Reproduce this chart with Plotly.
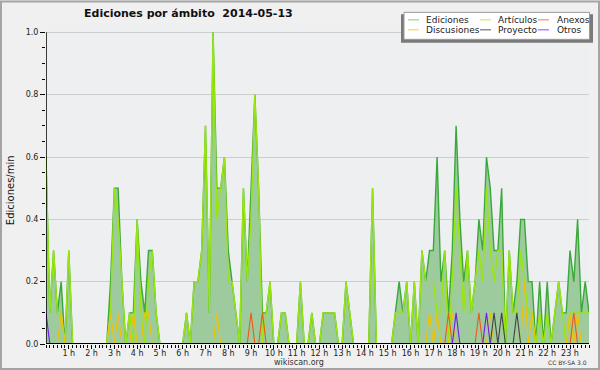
import plotly.graph_objects as go

# ---------------- data (edits/min, one value per 10-minute slot, 00:00 .. 23:50) ----------------
hour_labels = ["1 h", "2 h", "3 h", "4 h", "5 h", "6 h", "7 h", "8 h", "9 h", "10 h", "11 h", "12 h",
               "13 h", "14 h", "15 h", "16 h", "17 h", "18 h", "19 h", "20 h", "21 h", "22 h", "23 h"]
y_labels = ["0.0", "0.2", "0.4", "0.6", "0.8", "1.0"]

ediciones = [
    0.6, 0.1, 0.3, 0.1, 0.2, 0.0, 0.3, 0.0, 0.0, 0.0, 0.0, 0.0,
    0.0, 0.0, 0.0, 0.0, 0.0, 0.2, 0.5, 0.5, 0.2, 0.0, 0.1, 0.1,
    0.4, 0.2, 0.1, 0.3, 0.3, 0.1, 0.0, 0.0, 0.0, 0.0, 0.0, 0.0,
    0.0, 0.1, 0.0, 0.2, 0.2, 0.3, 0.7, 0.1, 1.0, 0.5, 0.5, 0.6,
    0.3, 0.2, 0.1, 0.0, 0.5, 0.2, 0.5, 0.8, 0.5, 0.1, 0.1, 0.2,
    0.0, 0.0, 0.1, 0.1, 0.0, 0.0, 0.0, 0.2, 0.0, 0.0, 0.1, 0.0,
    0.0, 0.1, 0.1, 0.1, 0.1, 0.0, 0.0, 0.2, 0.1, 0.0, 0.0, 0.0,
    0.0, 0.0, 0.5, 0.0, 0.0, 0.0, 0.0, 0.0, 0.1, 0.2, 0.1, 0.2,
    0.0, 0.2, 0.0, 0.3, 0.2, 0.3, 0.3, 0.6, 0.2, 0.3, 0.1, 0.3,
    0.7, 0.4, 0.2, 0.3, 0.1, 0.2, 0.4, 0.3, 0.6, 0.5, 0.3, 0.3,
    0.5, 0.0, 0.3, 0.1, 0.2, 0.4, 0.4, 0.2, 0.2, 0.0, 0.2, 0.0,
    0.2, 0.0, 0.1, 0.2, 0.1, 0.1, 0.3, 0.2, 0.4, 0.1, 0.2, 0.1,
]
articulos = [
    0.6, 0.1, 0.3, 0.1, 0.1, 0.0, 0.3, 0.0, 0.0, 0.0, 0.0, 0.0,
    0.0, 0.0, 0.0, 0.0, 0.0, 0.1, 0.5, 0.4, 0.2, 0.0, 0.1, 0.0,
    0.4, 0.1, 0.0, 0.2, 0.3, 0.1, 0.0, 0.0, 0.0, 0.0, 0.0, 0.0,
    0.0, 0.1, 0.0, 0.2, 0.2, 0.3, 0.7, 0.1, 1.0, 0.4, 0.5, 0.6,
    0.2, 0.2, 0.1, 0.0, 0.5, 0.2, 0.4, 0.8, 0.5, 0.0, 0.1, 0.2,
    0.0, 0.0, 0.1, 0.1, 0.0, 0.0, 0.0, 0.2, 0.0, 0.0, 0.1, 0.0,
    0.0, 0.1, 0.1, 0.1, 0.1, 0.0, 0.0, 0.2, 0.1, 0.0, 0.0, 0.0,
    0.0, 0.0, 0.5, 0.0, 0.0, 0.0, 0.0, 0.0, 0.1, 0.1, 0.1, 0.2,
    0.0, 0.2, 0.0, 0.3, 0.2, 0.2, 0.2, 0.1, 0.1, 0.3, 0.0, 0.2,
    0.5, 0.3, 0.1, 0.3, 0.1, 0.2, 0.3, 0.2, 0.5, 0.3, 0.2, 0.3,
    0.3, 0.0, 0.3, 0.1, 0.1, 0.3, 0.2, 0.1, 0.1, 0.0, 0.1, 0.0,
    0.1, 0.0, 0.1, 0.2, 0.1, 0.0, 0.1, 0.1, 0.1, 0.1, 0.1, 0.1,
]
discusiones = [
    0.0, 0.0, 0.0, 0.0, 0.1, 0.0, 0.0, 0.0, 0.0, 0.0, 0.0, 0.0,
    0.0, 0.0, 0.0, 0.0, 0.0, 0.1, 0.0, 0.1, 0.0, 0.0, 0.0, 0.1,
    0.0, 0.0, 0.1, 0.1, 0.0, 0.0, 0.0, 0.0, 0.0, 0.0, 0.0, 0.0,
    0.0, 0.0, 0.0, 0.0, 0.0, 0.0, 0.0, 0.0, 0.0, 0.1, 0.0, 0.0,
    0.0, 0.0, 0.0, 0.0, 0.0, 0.0, 0.0, 0.0, 0.0, 0.0, 0.0, 0.0,
    0.0, 0.0, 0.0, 0.0, 0.0, 0.0, 0.0, 0.0, 0.0, 0.0, 0.0, 0.0,
    0.0, 0.0, 0.0, 0.0, 0.0, 0.0, 0.0, 0.0, 0.0, 0.0, 0.0, 0.0,
    0.0, 0.0, 0.0, 0.0, 0.0, 0.0, 0.0, 0.0, 0.0, 0.0, 0.0, 0.0,
    0.0, 0.0, 0.0, 0.0, 0.0, 0.1, 0.0, 0.1, 0.0, 0.0, 0.0, 0.1,
    0.0, 0.0, 0.0, 0.0, 0.0, 0.0, 0.0, 0.0, 0.0, 0.1, 0.0, 0.0,
    0.0, 0.0, 0.0, 0.0, 0.0, 0.0, 0.2, 0.0, 0.1, 0.0, 0.0, 0.0,
    0.0, 0.0, 0.0, 0.0, 0.0, 0.0, 0.1, 0.0, 0.1, 0.0, 0.0, 0.0,
]
anexos = [
    0.0, 0.0, 0.0, 0.0, 0.0, 0.0, 0.0, 0.0, 0.0, 0.0, 0.0, 0.0,
    0.0, 0.0, 0.0, 0.0, 0.0, 0.0, 0.0, 0.0, 0.0, 0.0, 0.0, 0.0,
    0.0, 0.0, 0.0, 0.0, 0.0, 0.0, 0.0, 0.0, 0.0, 0.0, 0.0, 0.0,
    0.0, 0.0, 0.0, 0.0, 0.0, 0.0, 0.0, 0.0, 0.0, 0.0, 0.0, 0.0,
    0.0, 0.0, 0.0, 0.0, 0.0, 0.0, 0.1, 0.0, 0.0, 0.1, 0.0, 0.0,
    0.0, 0.0, 0.0, 0.0, 0.0, 0.0, 0.0, 0.0, 0.0, 0.0, 0.0, 0.0,
    0.0, 0.0, 0.0, 0.0, 0.0, 0.0, 0.0, 0.0, 0.0, 0.0, 0.0, 0.0,
    0.0, 0.0, 0.0, 0.0, 0.0, 0.0, 0.0, 0.0, 0.0, 0.0, 0.0, 0.0,
    0.0, 0.0, 0.0, 0.0, 0.0, 0.0, 0.0, 0.0, 0.0, 0.0, 0.1, 0.0,
    0.0, 0.0, 0.0, 0.0, 0.0, 0.0, 0.1, 0.0, 0.0, 0.0, 0.0, 0.0,
    0.0, 0.0, 0.0, 0.0, 0.0, 0.0, 0.0, 0.0, 0.0, 0.0, 0.0, 0.0,
    0.0, 0.0, 0.0, 0.0, 0.0, 0.0, 0.0, 0.1, 0.0, 0.0, 0.0, 0.0,
]
proyecto = [
    0.0, 0.0, 0.0, 0.0, 0.0, 0.0, 0.0, 0.0, 0.0, 0.0, 0.0, 0.0,
    0.0, 0.0, 0.0, 0.0, 0.0, 0.0, 0.0, 0.0, 0.0, 0.0, 0.0, 0.0,
    0.0, 0.0, 0.0, 0.0, 0.0, 0.0, 0.0, 0.0, 0.0, 0.0, 0.0, 0.0,
    0.0, 0.0, 0.0, 0.0, 0.0, 0.0, 0.0, 0.0, 0.0, 0.0, 0.0, 0.0,
    0.0, 0.0, 0.0, 0.0, 0.0, 0.0, 0.0, 0.0, 0.0, 0.0, 0.0, 0.0,
    0.0, 0.0, 0.0, 0.0, 0.0, 0.0, 0.0, 0.0, 0.0, 0.0, 0.0, 0.0,
    0.0, 0.0, 0.0, 0.0, 0.0, 0.0, 0.0, 0.0, 0.0, 0.0, 0.0, 0.0,
    0.0, 0.0, 0.0, 0.0, 0.0, 0.0, 0.0, 0.0, 0.0, 0.0, 0.0, 0.0,
    0.0, 0.0, 0.0, 0.0, 0.0, 0.0, 0.0, 0.0, 0.0, 0.0, 0.0, 0.0,
    0.0, 0.0, 0.0, 0.0, 0.0, 0.0, 0.0, 0.0, 0.0, 0.0, 0.1, 0.0,
    0.1, 0.0, 0.0, 0.0, 0.1, 0.0, 0.0, 0.0, 0.0, 0.0, 0.0, 0.0,
    0.0, 0.0, 0.0, 0.0, 0.0, 0.0, 0.0, 0.0, 0.0, 0.0, 0.0, 0.0,
]
otros = [
    0.1, 0.0, 0.0, 0.0, 0.0, 0.0, 0.0, 0.0, 0.0, 0.0, 0.0, 0.0,
    0.0, 0.0, 0.0, 0.0, 0.0, 0.0, 0.0, 0.0, 0.0, 0.0, 0.0, 0.0,
    0.0, 0.0, 0.0, 0.0, 0.0, 0.0, 0.0, 0.0, 0.0, 0.0, 0.0, 0.0,
    0.0, 0.0, 0.0, 0.0, 0.0, 0.0, 0.0, 0.0, 0.0, 0.0, 0.0, 0.0,
    0.0, 0.0, 0.0, 0.0, 0.0, 0.0, 0.0, 0.0, 0.0, 0.0, 0.0, 0.0,
    0.0, 0.0, 0.0, 0.0, 0.0, 0.0, 0.0, 0.0, 0.0, 0.0, 0.0, 0.0,
    0.0, 0.0, 0.0, 0.0, 0.0, 0.0, 0.0, 0.0, 0.0, 0.0, 0.0, 0.0,
    0.0, 0.0, 0.0, 0.0, 0.0, 0.0, 0.0, 0.0, 0.0, 0.0, 0.0, 0.0,
    0.0, 0.0, 0.0, 0.0, 0.0, 0.0, 0.0, 0.0, 0.0, 0.0, 0.0, 0.0,
    0.1, 0.0, 0.0, 0.0, 0.0, 0.0, 0.0, 0.0, 0.1, 0.0, 0.0, 0.0,
    0.0, 0.0, 0.0, 0.0, 0.0, 0.0, 0.0, 0.0, 0.0, 0.0, 0.0, 0.0,
    0.0, 0.0, 0.0, 0.0, 0.0, 0.0, 0.0, 0.0, 0.0, 0.0, 0.0, 0.0,
]

slots = list(range(len(ediciones)))          # 10-minute slot index
hour_ticks = [6 * (k + 1) for k in range(len(hour_labels))]
y_ticks = [0.0, 0.2, 0.4, 0.6, 0.8, 1.0]

# ---------------- geometry ----------------
W, H = 600, 370
PL, PR = 46, 589          # pixel x of first / last slot
PY0, PY1 = 344, 32        # pixel y of 0.0 / 1.0
YMAX = 1.03
PT = PY0 - (PY0 - PY1) * YMAX


def fx(p):
    return (p - PL) / (PR - PL)


def fy(p):
    return (PY0 - p) / (PY0 - PT)


FONT = "DejaVu Sans"

fig = go.Figure()

series = [
    ("Ediciones", ediciones, "#3aa83a", 1.4),
    ("Artículos", articulos, "#99e60f", 1.4),
    ("Discusiones", discusiones, "#f2c200", 1.1),
    ("Anexos", anexos, "#ee5a14", 1.1),
    ("Proyecto", proyecto, "#444444", 1.1),
    ("Otros", otros, "#7419ee", 1.1),
]
for i, (name, vals, col, w) in enumerate(series):
    kw = {}
    if i == 0:
        kw = dict(fill="tozeroy", fillcolor="#9ecb9e")
    fig.add_trace(go.Scatter(x=slots, y=vals, name=name, mode="lines",
                             line=dict(color=col, width=w), showlegend=False,
                             hoverinfo="skip", **kw))

shapes = []
# axes drawn as shapes (y axis stops at 1.0 like the original)
shapes.append(dict(type="line", xref="x", yref="y", x0=0, x1=0, y0=0, y1=1.0,
                   line=dict(color="black", width=1.5), layer="above"))
shapes.append(dict(type="line", xref="x", yref="y", x0=0, x1=len(slots) - 1, y0=0, y1=0,
                   line=dict(color="black", width=2), layer="above"))

# outer frame
shapes.append(dict(type="rect", xref="paper", yref="paper",
                   x0=fx(1), x1=fx(599), y0=fy(369), y1=fy(1),
                   line=dict(color="#a4a4a4", width=2), fillcolor="rgba(0,0,0,0)", layer="above"))

# legend box with shadow
shapes.append(dict(type="rect", xref="paper", yref="paper",
                   x0=fx(401), x1=fx(593), y0=fy(42.5), y1=fy(14),
                   line=dict(width=0), fillcolor="#7a7a7a", layer="above"))
shapes.append(dict(type="rect", xref="paper", yref="paper",
                   x0=fx(404), x1=fx(589.5), y0=fy(39), y1=fy(12),
                   line=dict(color="#9a9a9a", width=1), fillcolor="white", layer="above"))

annotations = []
legend_items = [
    ("Ediciones", "#88cc88", 408, 424, 19.5),
    ("Artículos", "#bfe84a", 480, 496, 19.5),
    ("Anexos", "#f07a4a", 538, 555, 19.5),
    ("Discusiones", "#f5cf45", 408, 424, 29.5),
    ("Proyecto", "#555555", 480, 496, 29.5),
    ("Otros", "#8c4cf0", 538, 555, 29.5),
]
for name, col, lx, tx, ly in legend_items:
    shapes.append(dict(type="line", xref="paper", yref="paper",
                       x0=fx(lx), x1=fx(lx + 11), y0=fy(ly), y1=fy(ly),
                       line=dict(color=col, width=1), layer="above"))
    annotations.append(dict(text=name, xref="paper", yref="paper", x=fx(tx), y=fy(ly),
                            xanchor="left", yanchor="middle", showarrow=False,
                            font=dict(family=FONT, size=9, color="#222222")))

# title and other texts
annotations.append(dict(text="Ediciones por ámbito\u00a0\u00a02014-05-13", xref="paper", yref="paper",
                        x=fx(188.5), y=fy(13.5), xanchor="center", yanchor="middle", showarrow=False,
                        font=dict(family=FONT, size=11, color="#111111", weight="bold")))
annotations.append(dict(text="Ediciones/min", xref="paper", yref="paper",
                        x=fx(10), y=fy(190), xanchor="center", yanchor="middle", showarrow=False,
                        textangle=-90, font=dict(family=FONT, size=10, color="#111111")))
annotations.append(dict(text="wikiscan.org", xref="paper", yref="paper",
                        x=fx(299), y=fy(363), xanchor="center", yanchor="middle", showarrow=False,
                        font=dict(family=FONT, size=8, color="#333333")))
annotations.append(dict(text="CC BY-SA 3.0", xref="paper", yref="paper",
                        x=fx(589), y=fy(363), xanchor="right", yanchor="middle", showarrow=False,
                        font=dict(family=FONT, size=6, color="#333333")))

fig.update_layout(
    width=W, height=H,
    margin=dict(l=PL, r=W - PR, t=PT, b=H - PY0, pad=0, autoexpand=False),
    paper_bgcolor="#f0f0f0",
    plot_bgcolor="#eeeff1",
    showlegend=False,
    hovermode=False,
    shapes=shapes,
    annotations=annotations,
    xaxis=dict(range=[0, len(slots) - 1], tickmode="array", tickvals=hour_ticks, ticktext=hour_labels,
               ticks="outside", ticklen=4, tickwidth=1, tickcolor="black",
               minor=dict(tickmode="linear", tick0=0, dtick=1, ticks="outside", ticklen=3,
                          tickwidth=1, tickcolor="black", showgrid=False),
               ticklabelstandoff=-3,
               showgrid=False, zeroline=False, showline=False, automargin=False,
               tickfont=dict(family=FONT, size=8, color="#222222")),
    yaxis=dict(range=[0, YMAX], tickmode="array", tickvals=y_ticks, ticktext=y_labels,
               ticks="outside", ticklen=5, tickwidth=1, tickcolor="black",
               minor=dict(tickmode="linear", tick0=0, dtick=0.05, ticks="outside", ticklen=3,
                          tickwidth=1, tickcolor="black", showgrid=False),
               showgrid=True, gridcolor="#cdcdcd", gridwidth=1, zeroline=False, showline=False,
               automargin=False,
               tickfont=dict(family=FONT, size=8, color="#222222")),
)

fig.write_html("out.html", config={"displayModeBar": False, "staticPlot": True},
               post_script="document.body.style.margin='0';document.body.style.overflow='hidden';")
